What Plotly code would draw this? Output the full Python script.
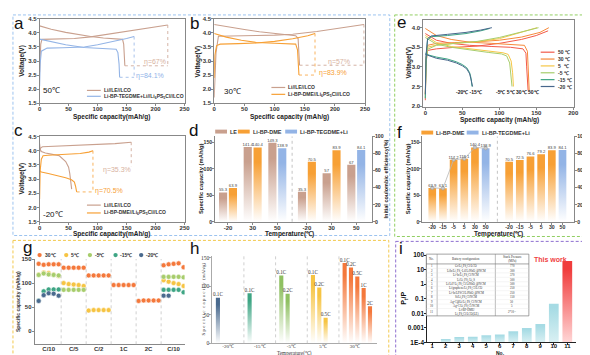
import plotly.graph_objects as go

W, H = 590, 355
SANS = "Liberation Sans"
SERIF = "Liberation Serif"

# ---------------- colours ----------------
C_LE, C_DME, C_TEG = "#c9a08e", "#f7a035", "#93b4e6"
E_COLORS = ["#f25a4a", "#f6893a", "#f6c646", "#a7cd6c", "#3ea584", "#47678c"]
G_COLORS = ["#f4783b", "#f6c443", "#a7cd6c", "#3ea584", "#4a6a8e"]
H_COLORS = ["#4a6a8e", "#3ea584", "#8fc062", "#f6c443", "#f4783b"]

# ---------------- panel a (50 C) ----------------
a_le_chg_x = [0, 2, 4, 30, 60, 88, 110, 140, 170, 200, 221]
a_le_chg_y = [2.6, 3.6, 3.77, 3.78, 3.8, 3.86, 3.93, 4.02, 4.12, 4.2, 4.28]
a_le_dis_x = [0, 20, 45, 70, 88, 110, 130, 143, 145, 146, 147]
a_le_dis_y = [4.25, 4.13, 4.02, 3.93, 3.87, 3.82, 3.79, 3.77, 3.6, 3.1, 2.83]
a_bp_chg_x = [0, 1, 3, 13, 40, 77, 100, 125, 150, 163]
a_bp_chg_y = [2.1, 2.9, 3.35, 3.46, 3.47, 3.5, 3.58, 3.68, 3.8, 3.87]
a_bp_dis_x = [0, 20, 45, 77, 100, 120, 132, 135, 137, 138]
a_bp_dis_y = [3.78, 3.68, 3.58, 3.48, 3.46, 3.45, 3.42, 3.3, 2.9, 2.42]

# ---------------- panel b (30 C) ----------------
b_le_chg_x = [0, 3, 7, 30, 70, 100, 130, 170, 210, 248]
b_le_chg_y = [1.7, 3.3, 3.88, 3.9, 3.91, 3.92, 3.95, 4.05, 4.17, 4.3]
b_le_dis_x = [0, 25, 50, 75, 100, 120, 135, 139, 140, 141.4]
b_le_dis_y = [4.3, 4.2, 4.12, 4.04, 3.98, 3.94, 3.9, 3.8, 3.3, 2.85]
b_bp_chg_x = [0, 1, 4, 10, 40, 70, 100, 130, 155, 167]
b_bp_chg_y = [2.4, 3.2, 3.55, 3.6, 3.62, 3.64, 3.7, 3.79, 3.9, 3.98]
b_bp_dis_x = [0, 20, 45, 70, 100, 125, 135, 138, 139, 140.4]
b_bp_dis_y = [3.98, 3.85, 3.74, 3.66, 3.63, 3.62, 3.6, 3.4, 2.9, 2.5]

# ---------------- panel c (-20 C) ----------------
c_le_chg_x = [0, 2, 5, 30, 60, 100, 130, 158]
c_le_chg_y = [3.95, 4.1, 4.14, 4.16, 4.18, 4.21, 4.25, 4.3]
c_le_dis_x = [0, 1, 3, 10, 20, 34, 45, 50, 52, 54, 55.3]
c_le_dis_y = [4.25, 4.05, 3.97, 3.92, 3.88, 3.82, 3.62, 3.42, 3.2, 2.8, 2.65]
c_bp_chg_x = [0, 1, 3, 6, 15, 40, 70, 85, 92]
c_bp_chg_y = [2.3, 3.3, 3.7, 3.82, 3.84, 3.86, 3.9, 3.95, 4.0]
c_bp_dis_x = [0, 3, 15, 30, 45, 55, 60, 62, 63, 63.9]
c_bp_dis_y = [3.3, 3.25, 3.2, 3.13, 3.05, 2.98, 2.9, 2.75, 2.62, 2.55]

# ---------------- panel d ----------------
d_temps = ["-20", "30", "50"]
d_cap_le = [55.3, 141.4, 149.3]
d_cap_bp = [63.9, 140.4, 138.9]
d_ice_le = [35.3, 57, 67]
d_ice_bp = [70.5, 83.9, 84.1]
d_bp_kind = ["DME", "DME", "TEGDME"]

# ---------------- panel e ----------------
e_temps = ["50 ℃", "30 ℃", "5  ℃", "-5 ℃", "-15 ℃", "-20 ℃"]
e_chg_x = [
    [0, 1, 3, 15, 40, 70, 100, 130, 150, 166],
    [0, 1, 3, 15, 40, 70, 100, 130, 155, 167],
    [0, 1, 3, 15, 40, 70, 100, 125, 151],
    [0, 1, 3, 15, 40, 70, 100, 125, 153],
    [0, 1, 3, 8, 30, 55, 75, 87],
    [0, 1, 3, 8, 30, 55, 75, 90],
]
e_chg_y = [
    [2.15, 3.1, 3.42, 3.46, 3.5, 3.53, 3.6, 3.7, 3.8, 3.92],
    [2.3, 3.2, 3.55, 3.6, 3.62, 3.64, 3.68, 3.76, 3.88, 4.0],
    [2.3, 3.2, 3.5, 3.56, 3.6, 3.64, 3.72, 3.85, 4.0],
    [2.2, 3.1, 3.45, 3.55, 3.6, 3.65, 3.75, 3.86, 4.0],
    [2.2, 3.2, 3.68, 3.77, 3.8, 3.85, 3.92, 3.98],
    [2.3, 3.3, 3.72, 3.79, 3.83, 3.88, 3.94, 4.0],
]
e_dis_x = [
    [0, 15, 35, 60, 90, 115, 132, 136, 137, 138.9],
    [0, 15, 35, 60, 90, 115, 134, 138, 139, 140.4],
    [0, 15, 35, 60, 85, 105, 112, 116, 118, 119.1],
    [0, 15, 35, 60, 85, 103, 110, 114, 116, 117.2],
    [0, 5, 15, 30, 42, 50, 56, 60, 62, 63.1],
    [0, 5, 15, 30, 42, 50, 56, 60, 62, 63.9],
]
e_dis_y = [
    [3.85, 3.68, 3.6, 3.55, 3.52, 3.5, 3.46, 3.35, 3.0, 2.4],
    [3.98, 3.8, 3.7, 3.63, 3.6, 3.58, 3.55, 3.4, 3.0, 2.4],
    [3.8, 3.62, 3.52, 3.46, 3.4, 3.36, 3.32, 3.15, 2.85, 2.5],
    [3.75, 3.58, 3.5, 3.43, 3.37, 3.33, 3.28, 3.1, 2.8, 2.5],
    [3.35, 3.3, 3.25, 3.2, 3.13, 3.06, 2.98, 2.85, 2.7, 2.5],
    [3.32, 3.28, 3.22, 3.17, 3.1, 3.03, 2.95, 2.82, 2.66, 2.5],
]

# ---------------- panel f ----------------
f_temps = ["-20", "-15", "-5", "5", "30", "50"]
f_cap = [63.9, 63.1, 117.2, 119.1, 140.4, 138.9]
f_ice = [70.5, 72.5, 76.6, 79.2, 83.9, 84.1]
f_kind = ["DME", "DME", "DME", "DME", "DME", "TEGDME"]

# ---------------- panel g ----------------
g_temps = ["30℃", "5℃", "-5℃", "-15℃", "-20℃"]
g_rates = ["C/10", "C/5", "C/2", "1C", "2C", "C/10"]
N = None
g_cap = [
    [140, 138, 139, 139, 139, 132, 132, 132, 132, 132, 116, 116, 116, 116, 116,
     96, 96, 96, 96, 96, 63, 64, 64, 64, 64, 137, 139, 140, 141, 133],
    [118, 122, 121, 118, 115, 100, 98, 97, 96, 94, 43, 44, 44, 44, 44,
     N, N, N, N, N, N, N, N, N, N, 106, 103, 100, 98, 94],
    [117, 120, 118, 117, 116, 86, 86, 86, 86, 86, N, N, N, N, N,
     N, N, N, N, N, N, N, N, N, N, 113, 113, 113, 113, 112],
    [64, 83, 87, 87, 87, N, N, N, N, N, N, N, N, N, N,
     N, N, N, N, N, N, N, N, N, N, 86, 86, 86, 86, 81],
    [63, 75, 79, 78, 74, N, N, N, N, N, N, N, N, N, N,
     N, N, N, N, N, N, N, N, N, N, 74, 74, N, N, N],
]

# ---------------- panel h ----------------
h_temps = ["-20℃", "-15℃", "-5℃", "5℃", "30℃"]
h_rates = ["0.1C", "0.2C", "0.5C", "1C", "2C"]
h_cap = [[80], [88], [119, 87], [120, 98, 45], [141, 133, 117, 97, 65]]

# ---------------- panel i ----------------
i_no = [1, 2, 3, 4, 5, 6, 7, 8, 9, 10, 11]
i_ratio = [1.1e-4, 1.7e-4, 2.3e-4, 2.4e-4, 3.1e-4, 3.5e-4, 5.8e-4, 9.7e-4, 1.8e-3, 0.045, 39]
i_ticks = ["1E-4", "0.001", "0.01", "0.1", "1", "10", "100"]
i_tab_head = ["No.", "Battery configuration", "Stack Pressure<br>(MPa)"]
i_tab_cfg = ["Gr/Li<sub>6</sub>PS<sub>5</sub>Cl/LCO", "LiIn/Li<sub>3</sub>PS<sub>4</sub>-LiI/LiNbO<sub>3</sub>@NCM",
             "Li-In/Li<sub>6</sub>PS<sub>5</sub>Cl/NCM", "Li/Li<sub>3</sub>PS<sub>4</sub>/Li<sub>2</sub>S",
             "Li/LiF/Li<sub>6</sub>PS<sub>5</sub>Cl/LiNbO<sub>3</sub>@NCM", "Li/graphene/Li<sub>6</sub>PS<sub>5</sub>Cl/LCO",
             "Li-In/LPSCl/LiNbO<sub>3</sub>@NCM", "Si/Li<sub>6</sub>PS<sub>5</sub>Cl/NCM",
             "Ag-C@Li/Li<sub>6</sub>PS<sub>5</sub>Cl/NCM", "Ag-C/Li<sub>6</sub>PS<sub>5</sub>Cl/NCM",
             "Li-BP-DME/<br>Li<sub>6</sub>PS<sub>5</sub>Cl/LCO(LE)"]
i_tab_p = ["770", "300", "370", "500", "500", "250", "250", "150", "50", "5", "2*10<sup>-3</sup>"]

# =====================================================================
fig = go.Figure()
SHAPES, ANN = [], []


def fx(p):
    return p / W


def fy(p):
    return 1 - p / H


def dom_x(a, b):
    return [a / W, b / W]


def dom_y(t, b):
    return [1 - b / H, 1 - t / H]


TICKFONT = dict(family=SANS, size=6, color="#333", weight="bold")
SMALLTICK = dict(family=SANS, size=5.2, color="#333", weight="bold")


def axis(dom, anchor, rng, line="#888", mirror=False, **kw):
    d = dict(domain=dom, anchor=anchor, range=rng, showgrid=False, zeroline=False,
             showline=True, linecolor=line, linewidth=0.8, mirror=mirror,
             ticks="outside", ticklen=2, tickwidth=0.7, tickcolor=line,
             tickfont=TICKFONT, fixedrange=True, tickangle=0, ticklabelstandoff=-1)
    d.update(kw)
    return d


def text(x, y, s, size=6.5, color="#222", xanchor="center", yanchor="middle",
         angle=0, family=SANS, weight="bold", xref="paper", yref="paper"):
    if xref == "paper":
        x = fx(x)
    if yref == "paper":
        y = fy(y)
    ANN.append(dict(x=x, y=y, xref=xref, yref=yref, text=s, showarrow=False,
                    xanchor=xanchor, yanchor=yanchor, textangle=angle, borderpad=0,
                    font=dict(family=family, size=size, color=color, weight=weight)))


def pshape(kind, x0, y0, x1, y1, **kw):
    SHAPES.append(dict(type=kind, xref="paper", yref="paper",
                       x0=fx(x0), x1=fx(x1), y0=fy(y0), y1=fy(y1), **kw))


def curve(xs, ys, color, xa, ya, width=1.1):
    fig.add_trace(go.Scatter(x=xs, y=ys, mode="lines", line=dict(color=color, width=width),
                             xaxis=xa, yaxis=ya, showlegend=False, hoverinfo="skip"))


def guides(cx_, cy_, dx_, dy_, color, xa, ya, horiz=True, vend=None):
    cx, cy, ex, ey = cx_[-1], cy_[-1], dx_[-1], dy_[-1]
    SHAPES.append(dict(type="line", xref=xa, yref=ya, x0=cx, x1=cx, y0=cy,
                       y1=ey if vend is None else vend,
                       line=dict(color=color, width=0.8, dash="dot")))
    if horiz:
        SHAPES.append(dict(type="line", xref=xa, yref=ya, x0=ex, x1=cx, y0=ey, y1=ey,
                           line=dict(color=color, width=0.8, dash="dot")))


def grad_bar(xc, w, top, color, xa, ya, base=0.0, bottom="#ffffff", mid=0.8):
    fig.add_trace(go.Scatter(
        x=[xc - w / 2, xc + w / 2, xc + w / 2, xc - w / 2, xc - w / 2],
        y=[base, base, top, top, base], mode="lines", fill="toself",
        line=dict(width=0, color="rgba(0,0,0,0)"),
        fillgradient=dict(type="vertical", colorscale=[[0, bottom], [mid, color], [1, color]]),
        xaxis=xa, yaxis=ya, showlegend=False, hoverinfo="skip"))


def vlabels(xs, ys, labels, xa, ya, size=4.4, family=SANS, color="#444"):
    fig.add_trace(go.Scatter(x=xs, y=ys, mode="text", text=labels, textposition="top center",
                             textfont=dict(family=family, size=size, color=color),
                             xaxis=xa, yaxis=ya, showlegend=False, hoverinfo="skip",
                             cliponaxis=False))


# ---------------- panels a, b, c ----------------
curve(a_le_chg_x, a_le_chg_y, C_LE, "x", "y")
curve(a_le_dis_x, a_le_dis_y, C_LE, "x", "y")
curve(a_bp_chg_x, a_bp_chg_y, C_TEG, "x", "y")
curve(a_bp_dis_x, a_bp_dis_y, C_TEG, "x", "y")
guides(a_le_chg_x, a_le_chg_y, a_le_dis_x, a_le_dis_y, C_LE, "x", "y")
guides(a_bp_chg_x, a_bp_chg_y, a_bp_dis_x, a_bp_dis_y, C_TEG, "x", "y")

curve(b_le_chg_x, b_le_chg_y, C_LE, "x2", "y2")
curve(b_le_dis_x, b_le_dis_y, C_LE, "x2", "y2")
curve(b_bp_chg_x, b_bp_chg_y, C_DME, "x2", "y2")
curve(b_bp_dis_x, b_bp_dis_y, C_DME, "x2", "y2")
guides(b_le_chg_x, b_le_chg_y, b_le_dis_x, b_le_dis_y, C_LE, "x2", "y2")
guides(b_bp_chg_x, b_bp_chg_y, b_bp_dis_x, b_bp_dis_y, C_DME, "x2", "y2")

curve(c_le_chg_x, c_le_chg_y, C_LE, "x3", "y3")
curve(c_le_dis_x, c_le_dis_y, C_LE, "x3", "y3")
curve(c_bp_chg_x, c_bp_chg_y, C_DME, "x3", "y3")
curve(c_bp_dis_x, c_bp_dis_y, C_DME, "x3", "y3")
guides(c_le_chg_x, c_le_chg_y, c_le_dis_x, c_le_dis_y, C_LE, "x3", "y3", horiz=False, vend=3.45)
guides(c_bp_chg_x, c_bp_chg_y, c_bp_dis_x, c_bp_dis_y, C_DME, "x3", "y3")

text(5, 1.95, "50℃", size=8, xanchor="left", xref="x", yref="y", weight="normal", color="#111")
text(219, 2.95, "η=67%", size=7, color="#d8b2a0", xanchor="right", xref="x", yref="y", weight="normal")
text(165, 2.45, "η=84.1%", size=7, color="#8fb2e8", xanchor="left", xref="x", yref="y", weight="normal")
text(15, 1.92, "30℃", size=8, xanchor="left", xref="x2", yref="y2", weight="normal", color="#111")
text(206, 2.95, "η=57%", size=7, color="#d8b2a0", xref="x2", yref="y2", weight="normal")
text(196, 2.56, "η=83.9%", size=7, color=C_DME, xref="x2", yref="y2", weight="normal")
text(5, 1.75, "-20℃", size=8, xanchor="left", xref="x3", yref="y3", weight="normal", color="#111")
text(134, 3.33, "η=35.3%", size=7, color="#d8b2a0", xref="x3", yref="y3", weight="normal")
text(93, 2.58, "η=70.5%", size=7, color=C_DME, xanchor="left", xref="x3", yref="y3", weight="normal")

# legends a,b,c
for (lx, ly, col, lab) in [
    (78, 80, C_LE, "Li//LE//LCO"),
    (78, 86, C_TEG, "Li-BP-TEGDME+Li//Li<sub>6</sub>PS<sub>5</sub>Cl//LCO"),
    (265, 77, C_LE, "Li//LE//LCO"),
    (265, 84, C_DME, "Li-BP-DME//Li<sub>6</sub>PS<sub>5</sub>Cl//LCO"),
    (78, 197, C_LE, "Li//LE//LCO"),
    (78, 205, C_DME, "Li-BP-DME//Li<sub>6</sub>PS<sub>5</sub>Cl//LCO"),
]:
    pshape("line", lx, ly, lx + 14, ly, line=dict(color=col, width=1.2))
    text(lx + 16, ly, lab, size=5, xanchor="left", color="#333")

# ---------------- panel d ----------------
D_POS = [i + (0.2 if i >= 3 else 0) for i in range(6)]
D_OFF, D_W = 0.2, 0.33
kind_col = {"DME": C_DME, "TEGDME": C_TEG}
for k in range(3):
    grad_bar(D_POS[k] - D_OFF, D_W, d_cap_le[k], C_LE, "x4", "y4")
    grad_bar(D_POS[k] + D_OFF, D_W, d_cap_bp[k], kind_col[d_bp_kind[k]], "x4", "y4")
    grad_bar(D_POS[k + 3] - D_OFF, D_W, d_ice_le[k], C_LE, "x4", "y5")
    grad_bar(D_POS[k + 3] + D_OFF, D_W, d_ice_bp[k], kind_col[d_bp_kind[k]], "x4", "y5")
vlabels([D_POS[k] - D_OFF for k in range(3)] + [D_POS[k] + D_OFF for k in range(3)],
        d_cap_le + d_cap_bp, [f"{v:g}" for v in d_cap_le + d_cap_bp], "x4", "y4", size=4.2)
vlabels([D_POS[k + 3] - D_OFF for k in range(3)] + [D_POS[k + 3] + D_OFF for k in range(3)],
        d_ice_le + d_ice_bp, [f"{v:g}" for v in d_ice_le + d_ice_bp], "x4", "y5", size=4.2)
SHAPES.append(dict(type="line", xref="x4", yref="y4 domain", x0=2.6, x1=2.6, y0=0, y1=1,
                   line=dict(color="#aaa", width=0.7, dash="dot")))
for (lx, col, lab) in [(208, C_LE, "LE"), (231, C_DME, "Li-BP-DME"), (279, C_TEG, "Li-BP-TEGDME+Li")]:
    pshape("rect", lx, 120, lx + 12, 124, fillcolor=col, line=dict(width=0))
    text(lx + 14, 122, lab, size=5.5, xanchor="left", color="#333")

# ---------------- panel e ----------------
for k in range(6):
    curve(e_chg_x[k], e_chg_y[k], E_COLORS[k], "x5", "y6", width=1.0)
    curve(e_dis_x[k], e_dis_y[k], E_COLORS[k], "x5", "y6", width=1.0)
    ly = 41 + k * 7
    pshape("line", 538, ly, 552, ly, line=dict(color=E_COLORS[k], width=1.2))
    text(555, ly, e_temps[k], size=5, xanchor="left", color="#333")
text(59, 2.35, "-20℃ -15℃", size=5, xref="x5", yref="y6", color="#222")
text(124, 2.35, "-5℃ 5℃ 30℃ 50℃", size=5, xref="x5", yref="y6", color="#222")

# ---------------- panel f ----------------
F_POS = [i + (1.2 if i >= 6 else 0) for i in range(12)]
F_W = 0.72
for k in range(6):
    grad_bar(F_POS[k], F_W, f_cap[k], kind_col[f_kind[k]], "x6", "y7")
    grad_bar(F_POS[k + 6], F_W, f_ice[k], kind_col[f_kind[k]], "x6", "y8")
fig.add_trace(go.Scatter(x=F_POS[:6], y=f_cap, mode="lines+markers",
                         line=dict(color="#b8b8b8", width=0.8),
                         marker=dict(size=3.5, color="#c8c8c8", line=dict(color="#999", width=0.5)),
                         xaxis="x6", yaxis="y7", showlegend=False, hoverinfo="skip"))
vlabels(F_POS[:6], f_cap, [f"{v:g}" for v in f_cap], "x6", "y7", size=4.2)
vlabels(F_POS[6:], f_ice, [f"{v:g}" for v in f_ice], "x6", "y8", size=4.2)
SHAPES.append(dict(type="line", xref="x6", yref="y7 domain", x0=6.1, x1=6.1, y0=0, y1=1,
                   line=dict(color="#aaa", width=0.7, dash="dot")))
for (lx, col, lab) in [(417, C_DME, "Li-BP-DME"), (463, C_TEG, "Li-BP-TEGDME+Li")]:
    pshape("rect", lx, 121, lx + 12, 125, fillcolor=col, line=dict(width=0))
    text(lx + 14, 123, lab, size=5.5, xanchor="left", color="#333")

# ---------------- panel g ----------------
g_x = list(range(1, 31))
for k in range(5):
    fig.add_trace(go.Scatter(x=g_x, y=g_cap[k], mode="markers",
                             marker=dict(size=5, color=G_COLORS[k],
                                         line=dict(color="rgba(255,255,255,0.7)", width=0.8)),
                             xaxis="x7", yaxis="y9", showlegend=False, hoverinfo="skip"))
for s in [5.5, 10.5, 15.5, 20.5, 25.5]:
    SHAPES.append(dict(type="line", xref="x7", yref="y9 domain", x0=s, x1=s, y0=0, y1=1,
                       line=dict(color="#bbb", width=0.7, dash="dot")))
for k, lx in enumerate([30, 57, 81, 107, 133]):
    pshape("circle", lx - 2.2, 245.8, lx + 2.2, 250.2, fillcolor=G_COLORS[k], line=dict(width=0))
    text(lx + 4, 248, g_temps[k], size=5, xanchor="left", color="#333")
text(8, 295, "Specific capacity (mAh/g)", size=5, angle=-90, color="#333")

# ---------------- panel h ----------------
for g in range(5):
    xs = [5 * g + 0.9 + j for j in range(len(h_cap[g]))]
    for j, v in enumerate(h_cap[g]):
        grad_bar(xs[j], 0.65, v, H_COLORS[g], "x8", "y10", mid=0.85)
    vlabels(xs, h_cap[g], h_rates[:len(h_cap[g])], "x8", "y10", size=5.2, family=SERIF, color="#333")
for s in [5, 10, 15, 20]:
    SHAPES.append(dict(type="line", xref="x8", yref="y10 domain", x0=s, x1=s, y0=0, y1=1,
                       line=dict(color="#bbb", width=0.7, dash="dot")))
text(196, 293, "S p e c i f i c  c a p a c i t y  (mAh/g)", size=5, angle=-90, family=SERIF,
     weight="normal", color="#333")
text(288, 348, "Temperature(℃)", size=5.2, family=SERIF, weight="normal", color="#333")

# ---------------- panel i ----------------
for n, v in zip(i_no, i_ratio):
    if n == 11:
        grad_bar(n, 0.72, v, "#f03c3c", "x9", "y11", base=1e-4, bottom="#ffd6d6", mid=0.9)
    else:
        grad_bar(n, 0.72, v, "#a6dbe4", "x9", "y11", base=1e-4, bottom="#d9f0f3", mid=0.9)

# inset table (drawn with lines and text)
TX0, TX1 = 422, 526
TCOL = [422, 433, 492, 526]
TY_HEAD0, TY_HEAD1, ROW_H = 247, 257, 4.55
n_rows = len(i_no)
TY_BOT = TY_HEAD1 + ROW_H * (n_rows - 1) + 7.5
pshape("rect", TX0, TY_HEAD0, TX1, TY_BOT, fillcolor="white", line=dict(color="#666", width=0.6))
pshape("line", TX0, TY_HEAD1, TX1, TY_HEAD1, line=dict(color="#666", width=0.6))
for cx in TCOL[1:-1]:
    pshape("line", cx, TY_HEAD0, cx, TY_BOT, line=dict(color="#777", width=0.5))
for r in range(1, n_rows):
    yy = TY_HEAD1 + ROW_H * r
    pshape("line", TX0, yy, TX1, yy, line=dict(color="#ddd", width=0.3))
col_c = [(TCOL[j] + TCOL[j + 1]) / 2 for j in range(3)]
for j in range(3):
    text(col_c[j], (TY_HEAD0 + TY_HEAD1) / 2, i_tab_head[j], size=3.2, family=SERIF,
         weight="normal", color="#333")
for r in range(n_rows):
    if r < n_rows - 1:
        yc = TY_HEAD1 + ROW_H * (r + 0.5)
    else:
        yc = TY_HEAD1 + ROW_H * r + 3.75
    for j, val in enumerate([str(i_no[r]), i_tab_cfg[r], i_tab_p[r]]):
        text(col_c[j], yc, val, size=3.0, family=SERIF, weight="normal", color="#333")

text(548, 252, "This work", size=7, color="#f0413f")
text(400, 292, "P<sub>t</sub>/P", size=7, angle=-90, color="#111")
text(497, 348, "No.", size=5, color="#111")

# ---------------- axis titles ----------------
text(103, 107, "Specific capacity(mAh/g)")
text(12, 50, "Voltage(V)", angle=-90)
text(283, 107, "Specific capacity (mAh/g)")
text(191, 50, "Voltage(V)", angle=-90)
text(103, 226.5, "Specific capacity(mAh/g)")
text(12, 170, "Voltage(V)", angle=-90)
text(283, 226.5, "Temperature(℃)")
text(193, 170, "Specific capacity (mAh/g)", angle=-90, size=5.8)
text(381, 170, "Initial coulombic efficiency(%)", angle=-90, size=5.5)
text(496, 110, "Specific capacity (mAh/g)")
text(404, 52, "Voltage(V)", angle=-90)
text(495, 226.5, "Temperature(℃)")
text(403, 170, "Specific capacity (mAh/g)", angle=-90, size=5.8)
text(584, 170, "Initial coulombic efficiency(%)", angle=-90, size=5.5)

# ---------------- panel letters & frames ----------------
for (lx, ly, s) in [(3, 1, "a"), (181, 1, "b"), (3, 110, "c"), (180, 110, "d"), (391, 0, "e"),
                    (391, 112, "f"), (12, 230, "g"), (181, 231, "h"), (393, 231, "i")]:
    text(lx, ly, s, size=17, xanchor="left", yanchor="top", weight="normal", color="#111")
for (x0, y0, x1, y1, col) in [(3, 3, 385, 228, "#9cc3ef"), (390, 3, 587, 229, "#92cf63"),
                              (3, 233, 384, 351, "#f2c94e"), (391, 234, 587, 351, "#8e6fd0")]:
    pshape("rect", x0, y0, x1, y1, line=dict(color=col, width=1, dash="3px,2px"))

# ---------------- axes ----------------
V_TICKS = [1.5, 2.0, 2.5, 3.0, 3.5, 4.0, 4.5]
C_TICKS = [0, 50, 100, 150, 200, 250]


def right_axis(over, anchor):
    return dict(overlaying=over, side="right", anchor=anchor, range=[0, 100], showgrid=False,
                zeroline=False, showline=True, linecolor="#888", linewidth=0.8, ticks="outside",
                ticklen=2, tickwidth=0.7, tickcolor="#888", tickfont=SMALLTICK,
                tickvals=[0, 20, 40, 60, 80, 100], fixedrange=True, ticklabelstandoff=-1)


lay = dict(
    xaxis=axis(dom_x(30, 177), "y", [0, 250], mirror=True, tickvals=C_TICKS, ticklabelstandoff=-2),
    yaxis=axis(dom_y(7, 93), "x", [1.5, 4.5], mirror=True, tickvals=V_TICKS, tickformat=".1f"),
    xaxis2=axis(dom_x(207, 360), "y2", [0, 250], mirror=True, tickvals=C_TICKS, ticklabelstandoff=-2),
    yaxis2=axis(dom_y(7, 93), "x2", [1.5, 4.5], mirror=True, tickvals=V_TICKS, tickformat=".1f"),
    xaxis3=axis(dom_x(30, 177), "y3", [0, 250], mirror=True, tickvals=C_TICKS, ticklabelstandoff=-2),
    yaxis3=axis(dom_y(127, 214), "x3", [1.5, 4.5], mirror=True, tickvals=V_TICKS, tickformat=".1f"),
    xaxis4=axis(dom_x(208, 367), "y4", [-0.52, 5.84], tickvals=D_POS, ticktext=d_temps * 2,
                ticklabelstandoff=-2),
    yaxis4=axis(dom_y(127, 214), "x4", [0, 161], tickvals=[0, 50, 100, 150], tickfont=SMALLTICK),
    yaxis5=right_axis("y4", "x4"),
    xaxis5=axis(dom_x(419, 572), "y6", [-2.7, 201.3], mirror=True, tickvals=[0, 50, 100, 150, 200],
                ticklabelstandoff=-2),
    yaxis6=axis(dom_y(8, 97), "x5", [1.975, 4.2], mirror=True, tickvals=[2.0, 2.5, 3.0, 3.5, 4.0],
                tickformat=".1f"),
    xaxis6=axis(dom_x(418, 572), "y7", [-0.93, 13.3], tickvals=F_POS, ticktext=f_temps * 2,
                tickfont=SMALLTICK, ticklabelstandoff=-2),
    yaxis7=axis(dom_y(127, 214), "x6", [0, 161], tickvals=[0, 50, 100, 150], tickfont=SMALLTICK),
    yaxis8=right_axis("y7", "x6"),
    xaxis7=axis(dom_x(25, 177), "y9", [0.2, 30.2], tickvals=[3, 8, 13, 18, 23, 28],
                ticktext=g_rates, ticks=""),
    yaxis9=axis(dom_y(252, 339), "x7", [-27, 150], tickvals=[0, 50, 100, 150]),
    xaxis8=axis(dom_x(205, 372), "y10", [0, 26], tickvals=[2.5, 7.5, 12.5, 17.5, 22.5],
                ticktext=h_temps, ticks="", line="#aaa", ticklabelstandoff=-2,
                tickfont=dict(family=SERIF, size=5, color="#333")),
    yaxis10=axis(dom_y(249, 338), "x8", [0, 153], tickvals=[0, 50, 100, 150], line="#aaa",
                 tickfont=dict(family=SERIF, size=5.5, color="#333")),
    xaxis9=axis(dom_x(423, 574), "y11", [0.63, 11.66], tickvals=i_no, line="#222",
                ticklabelstandoff=-4,
                tickfont=dict(family=SANS, size=6, color="#111", weight="bold")),
    yaxis11=axis(dom_y(248, 337), "x9", [-4, 2], type="log", line="#222",
                 tickvals=[1e-4, 1e-3, 1e-2, 1e-1, 1, 10, 100], ticktext=i_ticks,
                 tickfont=dict(family=SANS, size=6.5, color="#111", weight="bold")),
)

fig.update_layout(width=W, height=H, margin=dict(l=0, r=0, t=0, b=0),
                  paper_bgcolor="white", plot_bgcolor="white", showlegend=False,
                  shapes=SHAPES, annotations=ANN, **lay)
fig.write_html("out.html")
